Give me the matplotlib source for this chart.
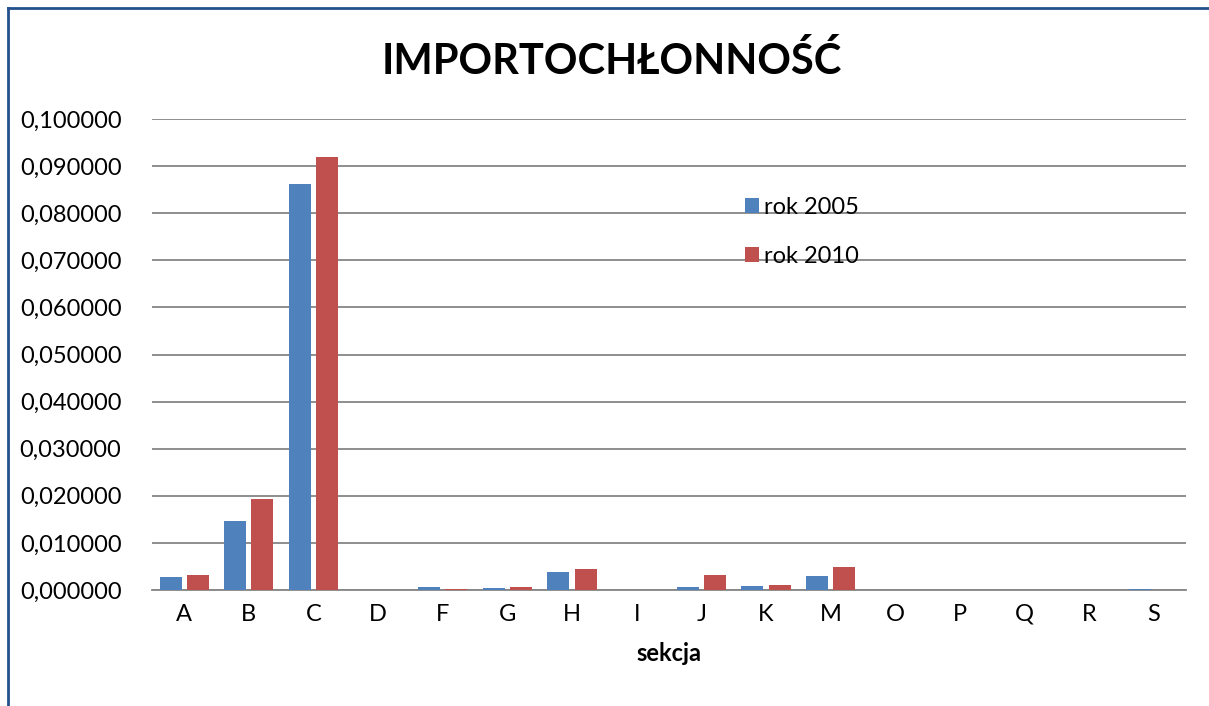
import matplotlib
matplotlib.use("Agg")
import matplotlib.pyplot as plt
import numpy as np
from matplotlib.lines import Line2D
from matplotlib.ticker import FuncFormatter

sekcje = ["A", "B", "C", "D", "F", "G", "H", "I", "J", "K", "M", "O", "P", "Q", "R", "S"]
rok_2005 = [0.0027, 0.0147, 0.0862, 0.0001, 0.0006, 0.0004, 0.0038, 0.0, 0.0006, 0.0009, 0.0030,
            0.0, 0.0, 0.0, 0.0, 0.0002]
rok_2010 = [0.0031, 0.0193, 0.0919, 0.0001, 0.0002, 0.0006, 0.0045, 0.0, 0.0032, 0.0011, 0.0048,
            0.0, 0.0, 0.0, 0.0001, 0.0001]

plt.rcParams['font.family'] = ['Lato', 'DejaVu Sans']

fig = plt.figure(figsize=(12.09, 7.06), dpi=100)
ax = fig.add_axes([0.1257, 0.1643, 0.8553, 0.6671])

x = np.arange(len(sekcje))
w = 0.34
ax.bar(x - 0.21, rok_2005, w, color="#4F81BD", label="rok 2005", zorder=3)
ax.bar(x + 0.21, rok_2010, w, color="#C0504D", label="rok 2010", zorder=3)

ax.set_xlim(-0.5, len(sekcje) - 0.5)
ax.set_ylim(0, 0.1)
ax.set_yticks(np.arange(0, 0.1001, 0.01))
ax.yaxis.set_major_formatter(FuncFormatter(lambda v, p: f"{v:.6f}".replace(".", ",")))
ax.set_xticks(x)
ax.set_xticklabels(sekcje)
ax.grid(axis="y", color="#868686", linewidth=1.3, zorder=0)
for s in ["top", "right", "left"]:
    ax.spines[s].set_visible(False)
ax.spines["bottom"].set_color("#868686")
ax.spines["bottom"].set_linewidth(1.3)
ax.tick_params(axis="both", length=0, labelsize=17, pad=10)
ax.tick_params(axis="y", pad=22)
ax.set_xlabel("sekcja", fontsize=17, fontweight="bold", labelpad=12)

fig.suptitle("IMPORTOCHŁONNOŚĆ", fontsize=30, fontweight="bold", x=0.506, y=0.942)

ax.legend(loc="upper left", bbox_to_anchor=(0.553, 0.88), frameon=False, fontsize=17,
          handlelength=0.6, handleheight=0.6, handletextpad=0.2, labelspacing=1.2)

# chart frame (only left and top edges visible)
fx = 8 / 1209
fy = 1 - 8 / 706
fig.add_artist(Line2D([fx, fx], [0, fy], transform=fig.transFigure, color="#24508C", linewidth=2.0))
fig.add_artist(Line2D([fx, 1.0], [fy, fy], transform=fig.transFigure, color="#24508C", linewidth=2.0))

fig.savefig("out.png", dpi=100)
